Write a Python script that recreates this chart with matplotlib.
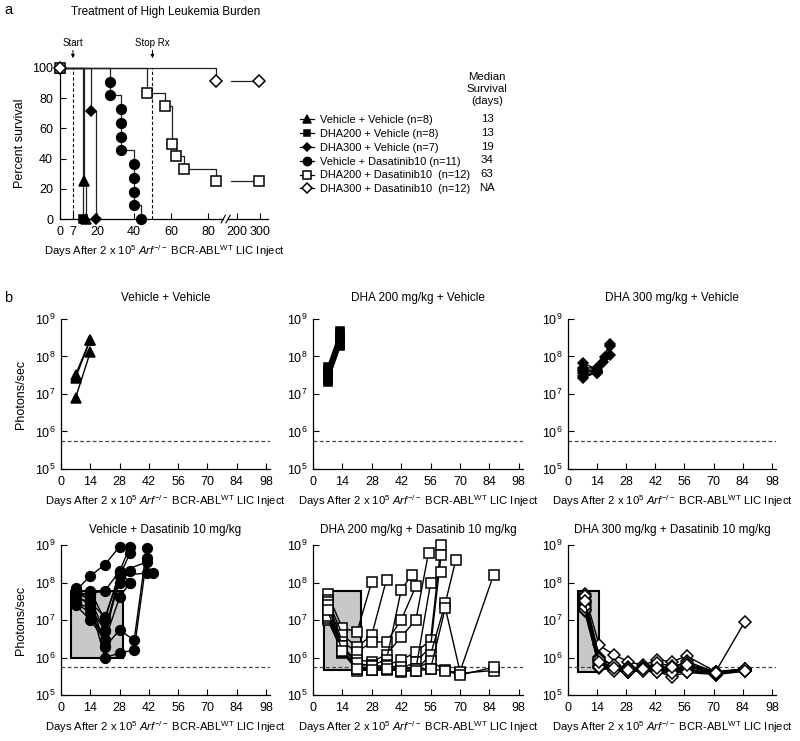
import numpy as np
import matplotlib
matplotlib.use('Agg')
import matplotlib.pyplot as plt
from matplotlib.patches import Rectangle
from matplotlib.lines import Line2D

plt.rcParams['font.family'] = ['Liberation Sans', 'DejaVu Sans']
plt.rcParams['font.sans-serif'] = ['Liberation Sans', 'DejaVu Sans']
plt.rcParams['mathtext.fontset'] = 'custom'
plt.rcParams['mathtext.rm'] = 'Liberation Sans'
plt.rcParams['mathtext.sf'] = 'Liberation Sans'
plt.rcParams['mathtext.it'] = 'Liberation Sans:italic'
plt.rcParams['mathtext.bf'] = 'Liberation Sans:bold'
plt.rcParams['mathtext.default'] = 'regular'
plt.rcParams['font.size'] = 8

# ---------------- Panel a data (Kaplan-Meier) ----------------
surv_labels = ['Vehicle + Vehicle (n=8)', 'DHA200 + Vehicle (n=8)', 'DHA300 + Vehicle (n=7)',
               'Vehicle + Dasatinib10 (n=11)', 'DHA200 + Dasatinib10  (n=12)',
               'DHA300 + Dasatinib10  (n=12)']
median_survival = ['13', '13', '19', '34', '63', 'NA']
vv_t = [0, 13, 14]
vv_s = [100, 25, 0]
d200v_t = [0, 12.5]
d200v_s = [100, 0]
d300v_t = [0, 17, 19.3]
d300v_s = [100, 71.4, 0]
vd_t = [0, 27, 27, 33, 33, 33, 33, 40, 40, 40, 40, 44]
vd_s = [100, 90.9, 81.8, 72.7, 63.6, 54.5, 45.5, 36.4, 27.3, 18.2, 9.1, 0]
d200d_t = [0, 47, 57, 60.5, 62.5, 67, 84.5, 295]
d200d_s = [100, 83.3, 75, 50, 41.7, 33.3, 25, 25]
d300d_t = [0, 84.5, 295]
d300d_s = [100, 91.7, 91.7]
a_xticks = [0, 7, 20, 40, 60, 80, 200, 300]
treat_start, treat_stop = 7, 50

# ---------------- Panel b data (photons/sec per mouse) ----------------
vv_mice = [([7, 14], [3.3e7, 2.8e8]),
           ([7, 14], [2.7e7, 2.8e8]),
           ([7, 14], [8e6, 1.3e8])]
d200v_mice = [([7, 13], [5.3e7, 4.8e8]), ([7, 13], [4.5e7, 4.2e8]),
              ([7, 13], [4e7, 3.6e8]), ([7, 13], [3.5e7, 3e8]),
              ([7, 13], [3e7, 2.6e8]), ([7, 13], [2.7e7, 2.3e8]),
              ([7, 13], [2.4e7, 2e8]), ([7, 13], [2.1e7, 1.9e8])]
d300v_mice = [([7, 14, 20], [6.8e7, 4.5e7, 2.1e8]),
              ([7, 14, 20], [5e7, 4.9e7, 1.9e8]),
              ([7, 14, 20], [4e7, 4e7, 1.1e8]),
              ([7, 14, 18], [3.6e7, 3.6e7, 9.5e7]),
              ([7, 14, 17], [2.7e7, 3.8e7, 7e7]),
              ([7, 14], [3e7, 3.6e7]),
              ([7, 14], [4.5e7, 4.2e7])]
vd_mice = [([7, 14, 21, 28], [6e7, 1.5e8, 3e8, 9e8]),
           ([7, 14, 21, 28, 33], [5e7, 5e7, 6e7, 2e8, 9e8]),
           ([7, 14, 21, 28, 33], [4e7, 3e7, 1.2e7, 1.5e8, 6e8]),
           ([7, 14, 21, 28, 33], [3e7, 2e7, 5.4e6, 1e8, 2e8]),
           ([7, 14, 21, 28, 33], [2.5e7, 1e7, 2.9e6, 4e7, 1e8]),
           ([7, 14, 21, 28, 35, 41], [6.5e7, 4e7, 1.9e6, 5.4e6, 2.9e6, 8.3e8]),
           ([7, 14, 21, 28, 35, 41], [4.5e7, 2.5e7, 1e6, 1.3e6, 1.6e6, 4.5e8]),
           ([7, 14, 21, 28, 41], [3.5e7, 6e7, 1e7, 1.9e8, 3.5e8]),
           ([7, 14, 21, 28, 41, 44], [5.5e7, 3.5e7, 5e6, 1.5e8, 1.8e8, 1.8e8]),
           ([7, 14, 21], [7e7, 3e7, 2e6]),
           ([7, 14, 21, 28, 33], [3e7, 1.5e7, 3e6, 1.9e8, 1e8])]
d200d_mice = [([7, 14, 21, 28], [5e7, 6e6, 4.9e6, 1.05e8]),
              ([7, 14, 21, 28, 35], [3.5e7, 4e6, 1.9e6, 4e6, 1.2e8]),
              ([7, 14, 21, 28, 35, 42, 49], [3e7, 2.6e6, 1.4e6, 2.6e6, 2.6e6, 1e7, 8e7]),
              ([7, 14, 21, 28, 35, 42, 49, 55], [2.2e7, 1.8e6, 8.6e5, 7.7e5, 1.2e6, 3.6e6, 1e7, 6.2e8]),
              ([7, 14, 21, 28, 35, 42, 47], [1.5e7, 1.4e6, 6.3e5, 6.3e5, 8.6e5, 6.3e7, 1.6e8]),
              ([7, 14, 21, 28, 35, 42, 49, 56, 61], [1.2e7, 1.3e6, 5.3e5, 4.6e5, 6.3e5, 8.6e5, 1.4e6, 2.9e6, 1e9]),
              ([7, 14, 21, 28, 35, 42, 49, 56, 61], [1e7, 1.4e6, 4.5e5, 4.6e5, 4.6e5, 5e5, 7.7e5, 1.9e6, 5.4e8]),
              ([7, 14, 21, 28, 35, 42, 49, 56, 63, 68], [1.1e7, 1.5e6, 5e5, 5e5, 5e5, 4.2e5, 4.5e5, 1.2e6, 2.8e7, 4e8]),
              ([7, 14, 21, 28, 35, 42, 49, 56, 63, 70, 86], [2e7, 2e6, 6e5, 5e5, 5e5, 5e5, 5e5, 8e5, 4.6e5, 3.8e5, 4.5e5]),
              ([7, 14, 21, 28, 35, 42, 49, 56, 61], [1.3e7, 1.6e6, 5e5, 5.5e5, 5.5e5, 5e5, 5e5, 9.6e7, 1.9e8]),
              ([7, 14, 21, 28, 35, 42, 49, 56, 63, 70, 86], [2.5e7, 2e6, 7e5, 6e5, 6e5, 5.5e5, 5e5, 5e5, 2.1e7, 4.2e5, 1.6e8]),
              ([7, 14, 21, 28, 35, 42, 49, 56, 63, 70, 86], [1.8e7, 1.5e6, 5e5, 4.6e5, 5e5, 4.5e5, 4.5e5, 4.8e5, 4.5e5, 3.4e5, 5.5e5])]
d300d_days = [8, 15, 22, 29, 36, 43, 50, 57, 71, 85]
d300d_vals = [[5e7, 2.1e6, 1.2e6, 7.7e5, 6.3e5, 8.6e5, 7.7e5, 1.1e6, 4.2e5, 9e6],
              [4e7, 1.05e6, 5.7e5, 4.6e5, 4.6e5, 4.6e5, 4.2e5, 6.3e5, 3.5e5, 4.6e5],
              [3e7, 8.6e5, 4.6e5, 4e5, 4.6e5, 4.2e5, 3.1e5, 4e5, 3.5e5, 4.3e5],
              [2.5e7, 5.2e5, 4.6e5, 4.6e5, 5e5, 6.3e5, 5e5, 8e5, 4e5, 4.6e5],
              [1.7e7, 6e5, 5e5, 4.2e5, 4.6e5, 4.6e5, 4.6e5, 4.6e5, 3.8e5, 4.5e5],
              [2e7, 7e5, 5.2e5, 4.8e5, 5e5, 5.5e5, 5e5, 5.5e5, 4e5, 4.8e5],
              [3.5e7, 8e5, 5.7e5, 5e5, 5.5e5, 5e5, 4.8e5, 6e5, 4.2e5, 5e5],
              [4.5e7, 1e6, 6e5, 5.5e5, 5e5, 4.8e5, 4.4e5, 5e5, 3.7e5, 4.4e5],
              [2.8e7, 6.5e5, 4.8e5, 4.5e5, 4.8e5, 4.4e5, 4e5, 4.4e5, 3.6e5, 4.7e5],
              [1.8e7, 5.5e5, 4.4e5, 4.2e5, 4.4e5, 4.2e5, 3.8e5, 4.2e5, 3.9e5, 4.6e5],
              [2.2e7, 9e5, 6.5e5, 5.2e5, 5.2e5, 7e5, 6e5, 7e5, 4.1e5, 4.9e5],
              [3.2e7, 7.5e5, 5.4e5, 4.7e5, 4.9e5, 5.2e5, 5.5e5, 6.5e5, 3.9e5, 4.5e5]]
# treatment boxes (day start, day end, low, high)
vd_box = (5, 29.5, 1e6, 6e7)
d200d_box = (5, 23, 4.6e5, 6e7)
d300d_box = (5, 15, 4e5, 6e7)
detection_limit = 5.6e5
b_titles = ['Vehicle + Vehicle', 'DHA 200 mg/kg + Vehicle', 'DHA 300 mg/kg + Vehicle',
            'Vehicle + Dasatinib 10 mg/kg', 'DHA 200 mg/kg + Dasatinib 10 mg/kg',
            'DHA 300 mg/kg + Dasatinib 10 mg/kg']
b_xticks = [0, 14, 28, 42, 56, 70, 84, 98]
b_yticks = [1e5, 1e6, 1e7, 1e8, 1e9]
xlabel_txt = 'Days After 2 x 10$^{5}$ $\\mathit{Arf}^{-/-}$ BCR-ABL$^{WT}$ LIC Inject'
XL_FS = 8.1

fig = plt.figure(figsize=(8, 7.41), dpi=100)

def axes_px(l, t, r, b):
    return fig.add_axes([l / 800, 1 - b / 741, (r - l) / 800, (b - t) / 741])

# ---------------- Panel a ----------------
BK_D = [-1000, 0, 90, 200, 1000]
BK_U = [-1000, 0, 90, 95.7, 95.7 + 800 * 0.124]
def fwd(d):
    return np.interp(d, BK_D, BK_U)
def inv(u):
    return np.interp(u, BK_U, BK_D)

axa = axes_px(60, 68, 268, 219)
axa.set_xscale('function', functions=(fwd, inv))
axa.set_xlim(0, 335)
axa.set_ylim(0, 100)

styles = [dict(marker='^', ms=6.5, mfc='k'),
          dict(marker='s', ms=5.5, mfc='k'),
          dict(marker='D', ms=5, mfc='k'),
          dict(marker='o', ms=7, mfc='k'),
          dict(marker='s', ms=7.5, mfc='white'),
          dict(marker='D', ms=6.5, mfc='white')]
series = [(vv_t, vv_s), (d200v_t, d200v_s), (d300v_t, d300v_s),
          (vd_t, vd_s), (d200d_t, d200d_s), (d300d_t, d300d_s)]

def step_path(t, s):
    xs, ys = [t[0]], [s[0]]
    for i in range(1, len(t)):
        if t[i - 1] < 90 and t[i] > 200:
            xs += [np.nan, 140, t[i]]
            ys += [np.nan, s[i - 1], s[i]]
        else:
            xs += [t[i], t[i]]
            ys += [s[i - 1], s[i]]
    return xs, ys

handles = []
for (t, s), st in zip(series, styles):
    xs, ys = step_path(t, s)
    axa.plot(xs, ys, color='#222222', lw=0.9, clip_on=False, zorder=2)
for (t, s), st in zip(series, styles):
    axa.plot(t, s, ls='none', mec='k', mew=1.1, clip_on=False, zorder=3, **st)
    handles.append(Line2D([], [], color='k', lw=0.9, mec='k', mew=1.1,
                          **{k: (v * 0.85 if k == 'ms' else v) for k, v in st.items()}))

axa.axvline(treat_start, color='k', ls=(0, (3, 2)), lw=0.8)
axa.axvline(treat_stop, color='k', ls=(0, (3, 2)), lw=0.8)
for xv, txt in [(treat_start, 'Start'), (treat_stop, 'Stop Rx')]:
    axa.annotate(txt, xy=(xv, 1.065), xycoords=('data', 'axes fraction'),
                 xytext=(xv, 1.135), textcoords=('data', 'axes fraction'),
                 ha='center', va='bottom', fontsize=7,
                 arrowprops=dict(arrowstyle='-|>', color='k', lw=0.7,
                                 mutation_scale=5, shrinkA=0, shrinkB=0))
axa.set_xticks(a_xticks)
axa.set_xticklabels([str(v) for v in a_xticks])
axa.set_yticks([0, 20, 40, 60, 80, 100])
axa.tick_params(direction='in', length=4, width=0.8, labelsize=9)
axa.tick_params(axis='x', pad=5)
axa.tick_params(axis='y', pad=5)
axa.minorticks_off()
for sp in ['top', 'right', 'bottom']:
    axa.spines[sp].set_visible(False)
axa.spines['left'].set_linewidth(0.9)
# broken bottom axis
axa.plot([0, 0.783], [0, 0], transform=axa.transAxes, color='k', lw=0.9, clip_on=False)
axa.plot([0.81, 1.0], [0, 0], transform=axa.transAxes, color='k', lw=0.9, clip_on=False)
for xb in [0.785, 0.808]:
    axa.plot([xb - 0.01, xb + 0.01], [-0.025, 0.025], transform=axa.transAxes,
             color='k', lw=0.8, clip_on=False)
axa.set_ylabel('Percent survival', fontsize=9, labelpad=4)
axa.set_xlabel(xlabel_txt, fontsize=XL_FS, labelpad=4)

fig.text(166 / 800, 1 - 12 / 741, 'Treatment of High Leukemia Burden', ha='center', va='center', fontsize=8.5)
fig.text(8 / 800, 1 - 10 / 741, 'a', ha='center', va='center', fontsize=10.5)
fig.text(8 / 800, 1 - 298 / 741, 'b', ha='center', va='center', fontsize=10.5)

fig.legend(handles, surv_labels, loc='upper left', bbox_to_anchor=(300 / 800, 1 - 115 / 741),
           frameon=False, handlelength=1.3, handletextpad=0.5, labelspacing=0.35,
           borderpad=0, borderaxespad=0, fontsize=7.9)
fig.text(487 / 800, 1 - 89 / 741, 'Median\nSurvival\n(days)', ha='center', va='center',
         fontsize=8.2, linespacing=1.2)
for i, m in enumerate(median_survival):
    fig.text(487 / 800, 1 - (119 + i * 13.8) / 741, m, ha='center', va='center', fontsize=8.2)

# ---------------- Panel b ----------------
col_px = [(61, 270), (313, 523), (568, 776)]
row_px = [(319, 469), (545, 695)]
title_pad = [13, 9]

panel_data = [
    (vv_mice, dict(marker='^', ms=7, mfc='k'), None),
    (d200v_mice, dict(marker='s', ms=6, mfc='k'), None),
    (d300v_mice, dict(marker='D', ms=5.5, mfc='k'), None),
    (vd_mice, dict(marker='o', ms=7, mfc='k'), vd_box),
    (d200d_mice, dict(marker='s', ms=6.5, mfc='white'), d200d_box),
    ([(d300d_days, v) for v in d300d_vals], dict(marker='D', ms=6.5, mfc='white'), d300d_box),
]

for idx, (mice, st, box) in enumerate(panel_data):
    r, c = divmod(idx, 3)
    l, rr = col_px[c]
    t, b = row_px[r]
    ax = axes_px(l, t, rr, b)
    ax.set_yscale('log')
    ax.set_ylim(1e5, 1e9)
    ax.set_xlim(0, 100)
    if box is not None:
        ax.add_patch(Rectangle((box[0], box[2]), box[1] - box[0], box[3] - box[2],
                               facecolor='#c8c8c8', edgecolor='k', lw=1.5, zorder=1))
    ax.axhline(detection_limit, color='#444444', ls=(0, (3, 2)), lw=0.9, zorder=1.5)
    for days, vals in mice:
        ax.plot(days, vals, color='k', lw=1.0, mec='k', mew=1.1, clip_on=False, zorder=3, **st)
    ax.set_xticks(b_xticks)
    ax.set_yticks(b_yticks)
    ax.set_yticklabels(['10$^{%d}$' % int(np.log10(v)) for v in b_yticks])
    ax.minorticks_off()
    ax.tick_params(direction='in', length=4, width=0.8, labelsize=9)
    ax.tick_params(axis='x', pad=5)
    ax.tick_params(axis='y', pad=4)
    for sp in ['top', 'right']:
        ax.spines[sp].set_visible(False)
    for sp in ['left', 'bottom']:
        ax.spines[sp].set_linewidth(0.9)
    ax.set_title(b_titles[idx], fontsize=8.5, pad=title_pad[r])
    ax.set_xlabel(xlabel_txt, fontsize=XL_FS, labelpad=4)
    if c == 0:
        ax.set_ylabel('Photons/sec', fontsize=9, labelpad=6)

fig.savefig('out.png', dpi=100)
